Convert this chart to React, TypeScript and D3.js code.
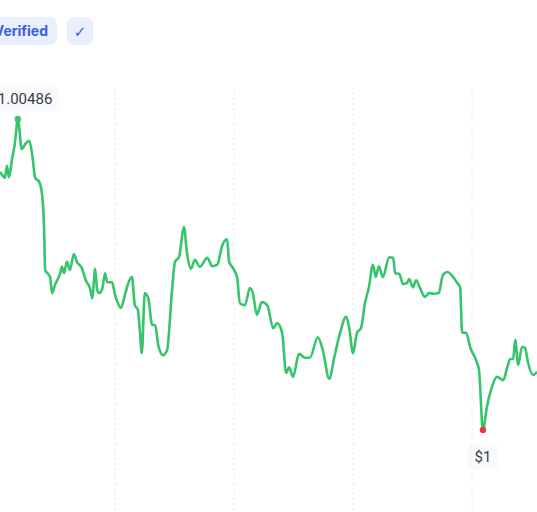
import * as d3 from 'd3'
import React, { useEffect, useRef } from 'react'

// hours since chart start
const hours = [
  0.8, 1.4, 1.8, 2.2, 2.6, 3.2, 3.8, 4.4, 5.2, 6.0, 6.7, 7.3, 7.9, 8.7, 9.3, 9.7, 9.9, 10.5, 10.9, 11.3,
  11.9, 12.9, 13.3, 13.7, 14.3, 14.9, 15.7, 16.3, 17.3, 18.1, 19.0, 19.4, 20.0, 20.4, 20.8, 21.4, 22.0,
  22.4, 23.4, 24.0, 24.6, 25.2, 26.0, 26.6, 27.4, 28.0, 28.6, 29.0, 29.4, 30.0, 30.7, 31.5, 32.1, 32.7,
  33.7, 34.5, 35.5, 36.1, 36.9, 37.9, 38.5, 39.3, 40.1, 41.1, 42.6, 43.6, 44.6, 45.6, 46.6, 47.0, 47.8,
  48.6, 49.2, 50.2, 51.2, 51.8, 52.6, 53.6, 54.7, 55.9, 56.7, 57.7, 58.5, 59.1, 59.9, 61.1, 62.3, 63.3,
  64.9, 65.9, 67.2, 68.2, 69.4, 70.6, 71.2, 72.0, 72.8, 73.6, 74.4, 75.2, 76.0, 76.6, 77.2, 78.0, 79.3,
  80.1, 80.5, 81.3, 82.1, 82.9, 83.3, 84.1, 84.7, 85.5, 86.5, 87.3, 88.3, 89.3, 90.1, 91.0, 92.2, 93.0,
  93.6, 94.0, 94.8, 95.6, 97.0, 97.4, 98.2, 99.0, 100.0, 101.0, 102.3, 103.1, 103.7, 104.3, 104.7, 105.3,
  106.1, 106.7, 107.3, 108.3, 109.1,
]

const prices = [
  1.00403, 1.00397, 1.00394, 1.00413, 1.00395, 1.00422, 1.00448, 1.00486, 1.00439, 1.00448, 1.00452,
  1.0043, 1.00394, 1.00388, 1.00367, 1.00313, 1.0025, 1.00244, 1.00239, 1.00214, 1.00227, 1.00244,
  1.00255, 1.00245, 1.00263, 1.0025, 1.00275, 1.00263, 1.00253, 1.00234, 1.0022, 1.00206, 1.00252,
  1.00219, 1.00214, 1.0022, 1.00245, 1.00231, 1.00231, 1.00211, 1.00198, 1.00191, 1.00211, 1.00228,
  1.00239, 1.00195, 1.00188, 1.00156, 1.0012, 1.00214, 1.00206, 1.00164, 1.00164, 1.00133, 1.00117,
  1.00125, 1.00219, 1.00263, 1.0027, 1.00317, 1.00277, 1.00252, 1.00266, 1.00255, 1.00269, 1.00256,
  1.00258, 1.00288, 1.00298, 1.00263, 1.00253, 1.00239, 1.00198, 1.00195, 1.00222, 1.00214, 1.0018,
  1.002, 1.00195, 1.00159, 1.00167, 1.00152, 1.00089, 1.00098, 1.00083, 1.00119, 1.00113, 1.00113,
  1.00145, 1.00125, 1.0008, 1.00113, 1.00152, 1.00177, 1.00161, 1.0012, 1.00152, 1.00159, 1.00198,
  1.00223, 1.00258, 1.00239, 1.00256, 1.00239, 1.0027, 1.00269, 1.00245, 1.00244, 1.00228, 1.0023,
  1.00236, 1.00223, 1.00234, 1.00222, 1.00208, 1.00214, 1.00213, 1.00214, 1.00242, 1.00247, 1.00239,
  1.0023, 1.00223, 1.00152, 1.00152, 1.0013, 1.00105, 1.00094, 1.0, 1.00036, 1.00067, 1.00083, 1.00078,
  1.00098, 1.00111, 1.00111, 1.00141, 1.00102, 1.0013, 1.00128, 1.00105, 1.00086, 1.00091,
]

const gridHours = [24, 48, 72, 96]
const badgeLabels = ['Verified', '✓']

const W = 537
const H = 512
const GREEN = '#36c46c'
const RED = '#ea3943'
const FONT = 'Inter, "Noto Sans", sans-serif'
const LABEL_FONT = 'Roboto, "Noto Sans", sans-serif'

export default function App() {
  const svgRef = useRef<SVGSVGElement | null>(null)

  useEffect(() => {
    const svg = d3.select(svgRef.current)
    svg.selectAll('*').remove()

    const data = hours.map((h, i) => ({ h, p: prices[i] }))
    const x = d3.scaleLinear().domain([0.8, 109.1]).range([0, W])
    const y = d3.scaleLinear().domain([1.0, 1.00486]).range([430, 119])

    // badges at the top
    const badges = svg.append('g')
    badges
      .append('rect')
      .attr('x', -20)
      .attr('y', 17)
      .attr('width', 77)
      .attr('height', 28)
      .attr('rx', 7)
      .style('fill', '#eaeffd')
    badges
      .append('text')
      .attr('x', 48)
      .attr('y', 36)
      .attr('text-anchor', 'end')
      .style('font-family', FONT)
      .style('font-size', '14px')
      .style('font-weight', 700)
      .style('fill', '#3b5fd9')
      .text(badgeLabels[0])
    badges
      .append('rect')
      .attr('x', 67)
      .attr('y', 17)
      .attr('width', 26)
      .attr('height', 28)
      .attr('rx', 7)
      .style('fill', '#eaeffd')
    badges
      .append('text')
      .attr('x', 80)
      .attr('y', 37)
      .attr('text-anchor', 'middle')
      .style('font-family', '"DejaVu Sans", sans-serif')
      .style('font-size', '15px')
      .style('font-weight', 400)
      .style('fill', '#3b5fd9')
      .text(badgeLabels[1])

    // dotted vertical grid
    svg
      .append('g')
      .selectAll('line')
      .data(gridHours)
      .enter()
      .append('line')
      .attr('x1', (d) => x(d))
      .attr('x2', (d) => x(d))
      .attr('y1', 88)
      .attr('y2', H)
      .style('stroke', '#e3e5ea')
      .style('stroke-width', 1)
      .style('stroke-dasharray', '2,3')

    const line = d3
      .line<{ h: number; p: number }>()
      .x((d) => x(d.h))
      .y((d) => y(d.p))
      .curve(d3.curveMonotoneX)

    svg
      .append('path')
      .datum(data)
      .attr('d', line)
      .style('fill', 'none')
      .style('stroke', GREEN)
      .style('stroke-width', 2.6)
      .style('stroke-linejoin', 'round')

    const maxD = data.reduce((a, b) => (b.p > a.p ? b : a))
    const minD = data.reduce((a, b) => (b.p < a.p ? b : a))

    const marker = (d: { h: number; p: number }, color: string, label: string, dy: number, dx: number) => {
      svg
        .append('circle')
        .attr('cx', x(d.h))
        .attr('cy', y(d.p))
        .attr('r', 3.2)
        .style('fill', color)
      const g = svg.append('g').attr('transform', `translate(${x(d.h) + dx},${y(d.p) + dy})`)
      const t = g
        .append('text')
        .attr('text-anchor', 'middle')
        .attr('dy', '0.35em')
        .style('font-family', LABEL_FONT)
        .style('font-size', '15px')
        .style('fill', '#3a3f47')
        .text(label)
      const bb = (t.node() as SVGTextElement).getBBox()
      g.insert('rect', 'text')
        .attr('x', bb.x - 7)
        .attr('y', -12)
        .attr('width', bb.width + 14)
        .attr('height', 24)
        .attr('rx', 5)
        .style('fill', '#f7f9fc')
    }

    marker(maxD, GREEN, `$${maxD.p.toFixed(5)}`, -20, 3)
    marker(minD, RED, `$${+minD.p.toFixed(5)}`, 27, 0)
  }, [])

  return (
    <svg
      ref={svgRef}
      width={W}
      height={H}
      style={{ position: 'absolute', left: 0, top: 0, background: '#fff' }}
    ></svg>
  )
}
